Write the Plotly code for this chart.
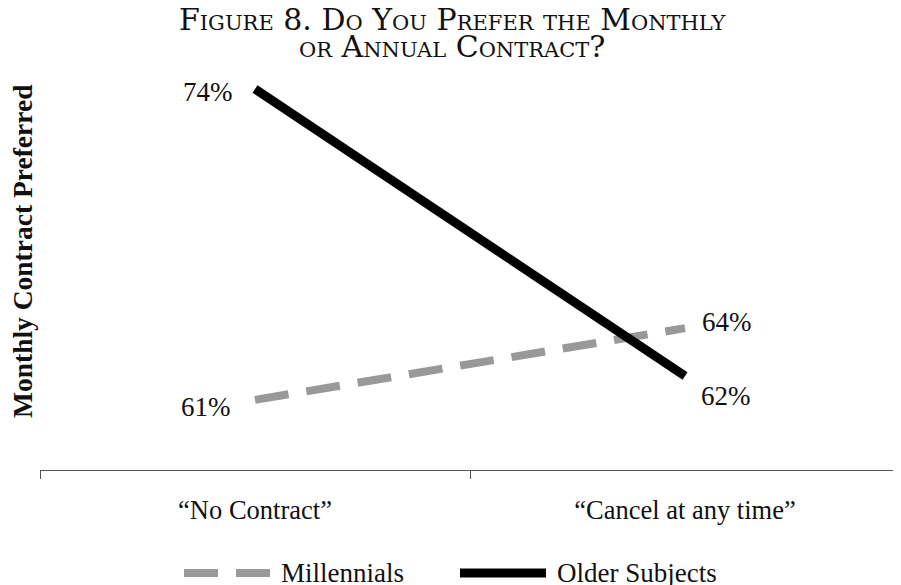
import plotly.graph_objects as go

categories = ["\u201cNo Contract\u201d", "\u201cCancel at any time\u201d"]
millennials = [61, 64]
older = [74, 62]
series_names = ["Millennials", "Older Subjects"]
title_lines = ["Figure 8. Do You Prefer the Monthly", "or Annual Contract?"]
y_title = "Monthly Contract Preferred"

SERIF = "Liberation Serif, Times New Roman, serif"
TITLE_FONT = "DejaVu Serif, serif"
GRAY = "#999999"
BLACK = "#000000"

# the page adds an 8px body margin; targets below are in page pixels
OFF = 8
W, H = 901, 585
L, R, T, B = 40 - OFF, 9, 60 - OFF, H - (470 - OFF)
PW, PH = W - L - R, H - T - B


def px_x(px):
    return (px - OFF - L) / PW


def px_y(py):
    return (H - B - (py - OFF)) / PH


fig = go.Figure()
fig.add_trace(go.Scatter(
    x=categories, y=millennials, mode="lines", name=series_names[0],
    line=dict(color=GRAY, width=8, dash="34px,18px"), showlegend=False,
))
fig.add_trace(go.Scatter(
    x=categories, y=older, mode="lines", name=series_names[1],
    line=dict(color=BLACK, width=9), showlegend=False,
))

# value labels
label_offsets = {
    (0, 0): (-49, -7), (0, 1): (42, 6),
    (1, 0): (-47, -3), (1, 1): (41, -20),
}
for si, vals in enumerate([millennials, older]):
    for ci, v in enumerate(vals):
        dx, dy = label_offsets[(si, ci)]
        fig.add_annotation(x=categories[ci], y=v, text=f"{v}%", showarrow=False,
                           xshift=dx, yshift=dy,
                           font=dict(family=SERIF, size=27, color="#111"))

# y axis title
fig.add_annotation(xref="paper", yref="paper", x=px_x(22), y=px_y(252),
                   text=f"<b>{y_title}</b>", textangle=-90, showarrow=False,
                   xanchor="center", yanchor="middle",
                   font=dict(family=SERIF, size=27.5, color="#111"))

# title (two lines, small caps)
for line, py in zip(title_lines, [20, 47]):
    fig.add_annotation(xref="paper", yref="paper", x=px_x(452), y=px_y(py),
                       text=line, showarrow=False, xanchor="center", yanchor="middle",
                       font=dict(family=TITLE_FONT, size=30, color="#111",
                                 variant="small-caps"))

# legend (drawn manually to match the long swatches)
legend_y = px_y(573)
fig.add_shape(type="line", xref="paper", yref="paper",
              x0=px_x(184), x1=px_x(270), y0=legend_y, y1=legend_y,
              line=dict(color=GRAY, width=8, dash="34px,18px"))
fig.add_shape(type="line", xref="paper", yref="paper",
              x0=px_x(460), x1=px_x(546), y0=legend_y, y1=legend_y,
              line=dict(color=BLACK, width=9))
for name, px0 in zip(series_names, [279, 555]):
    fig.add_annotation(xref="paper", yref="paper", x=px_x(px0), y=legend_y,
                       text=name, showarrow=False, xanchor="left", yanchor="middle",
                       font=dict(family=SERIF, size=27, color="#111"))

fig.update_layout(
    width=W, height=H,
    margin=dict(l=L, r=R, t=T, b=B, autoexpand=False),
    paper_bgcolor="white", plot_bgcolor="white",
    showlegend=False,
    xaxis=dict(type="category", range=[-0.5, 1.5], showline=True, linecolor="#555",
               linewidth=1, ticks="outside", tickson="boundaries", ticklen=8,
               tickcolor="#555", showgrid=False, ticklabelstandoff=16,
               automargin=False,
               tickfont=dict(family=SERIF, size=26.5, color="#111")),
    yaxis=dict(range=[58.07, 75.21], showline=False, showgrid=False, zeroline=False,
               showticklabels=False, ticks="", automargin=False),
)

fig.write_html("out.html")
